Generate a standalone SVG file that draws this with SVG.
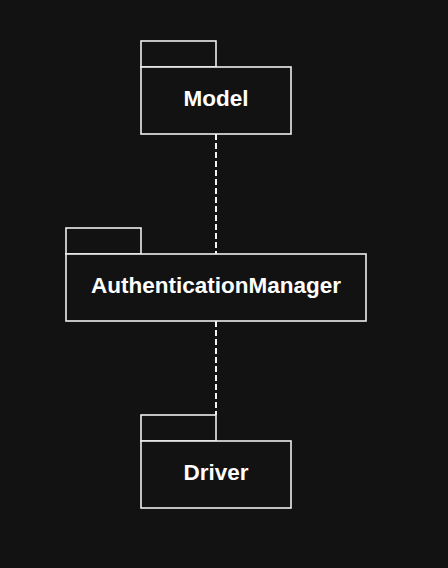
<svg xmlns="http://www.w3.org/2000/svg" width="448" height="568" viewBox="0 0 448 568">
<style>
.box{fill:#121212;stroke:#eeeeee;stroke-width:1.6}
.lbl{fill:#ffffff;font-family:"Liberation Sans",Arial,sans-serif;font-weight:bold;font-size:22.5px;text-anchor:middle}
.dep{stroke:#f2f2f2;stroke-width:2;stroke-dasharray:6 3;fill:none}
</style>
<rect width="448" height="568" fill="#121212"/>
<g id="connectors">
<line class="dep" x1="216" y1="134" x2="216" y2="254"/>
<line class="dep" x1="216" y1="321" x2="216" y2="415"/>
</g>
<g id="Model">
<rect class="box" x="141" y="41" width="75" height="26"/>
<rect class="box" x="141" y="67" width="150" height="67"/>
<text class="lbl" x="216" y="106">Model</text>
</g>
<g id="AuthenticationManager">
<rect class="box" x="66" y="228" width="75" height="26"/>
<rect class="box" x="66" y="254" width="300" height="67"/>
<text class="lbl" x="216" y="293">AuthenticationManager</text>
</g>
<g id="Driver">
<rect class="box" x="141" y="415" width="75" height="26"/>
<rect class="box" x="141" y="441" width="150" height="67"/>
<text class="lbl" x="216" y="480">Driver</text>
</g>
</svg>
